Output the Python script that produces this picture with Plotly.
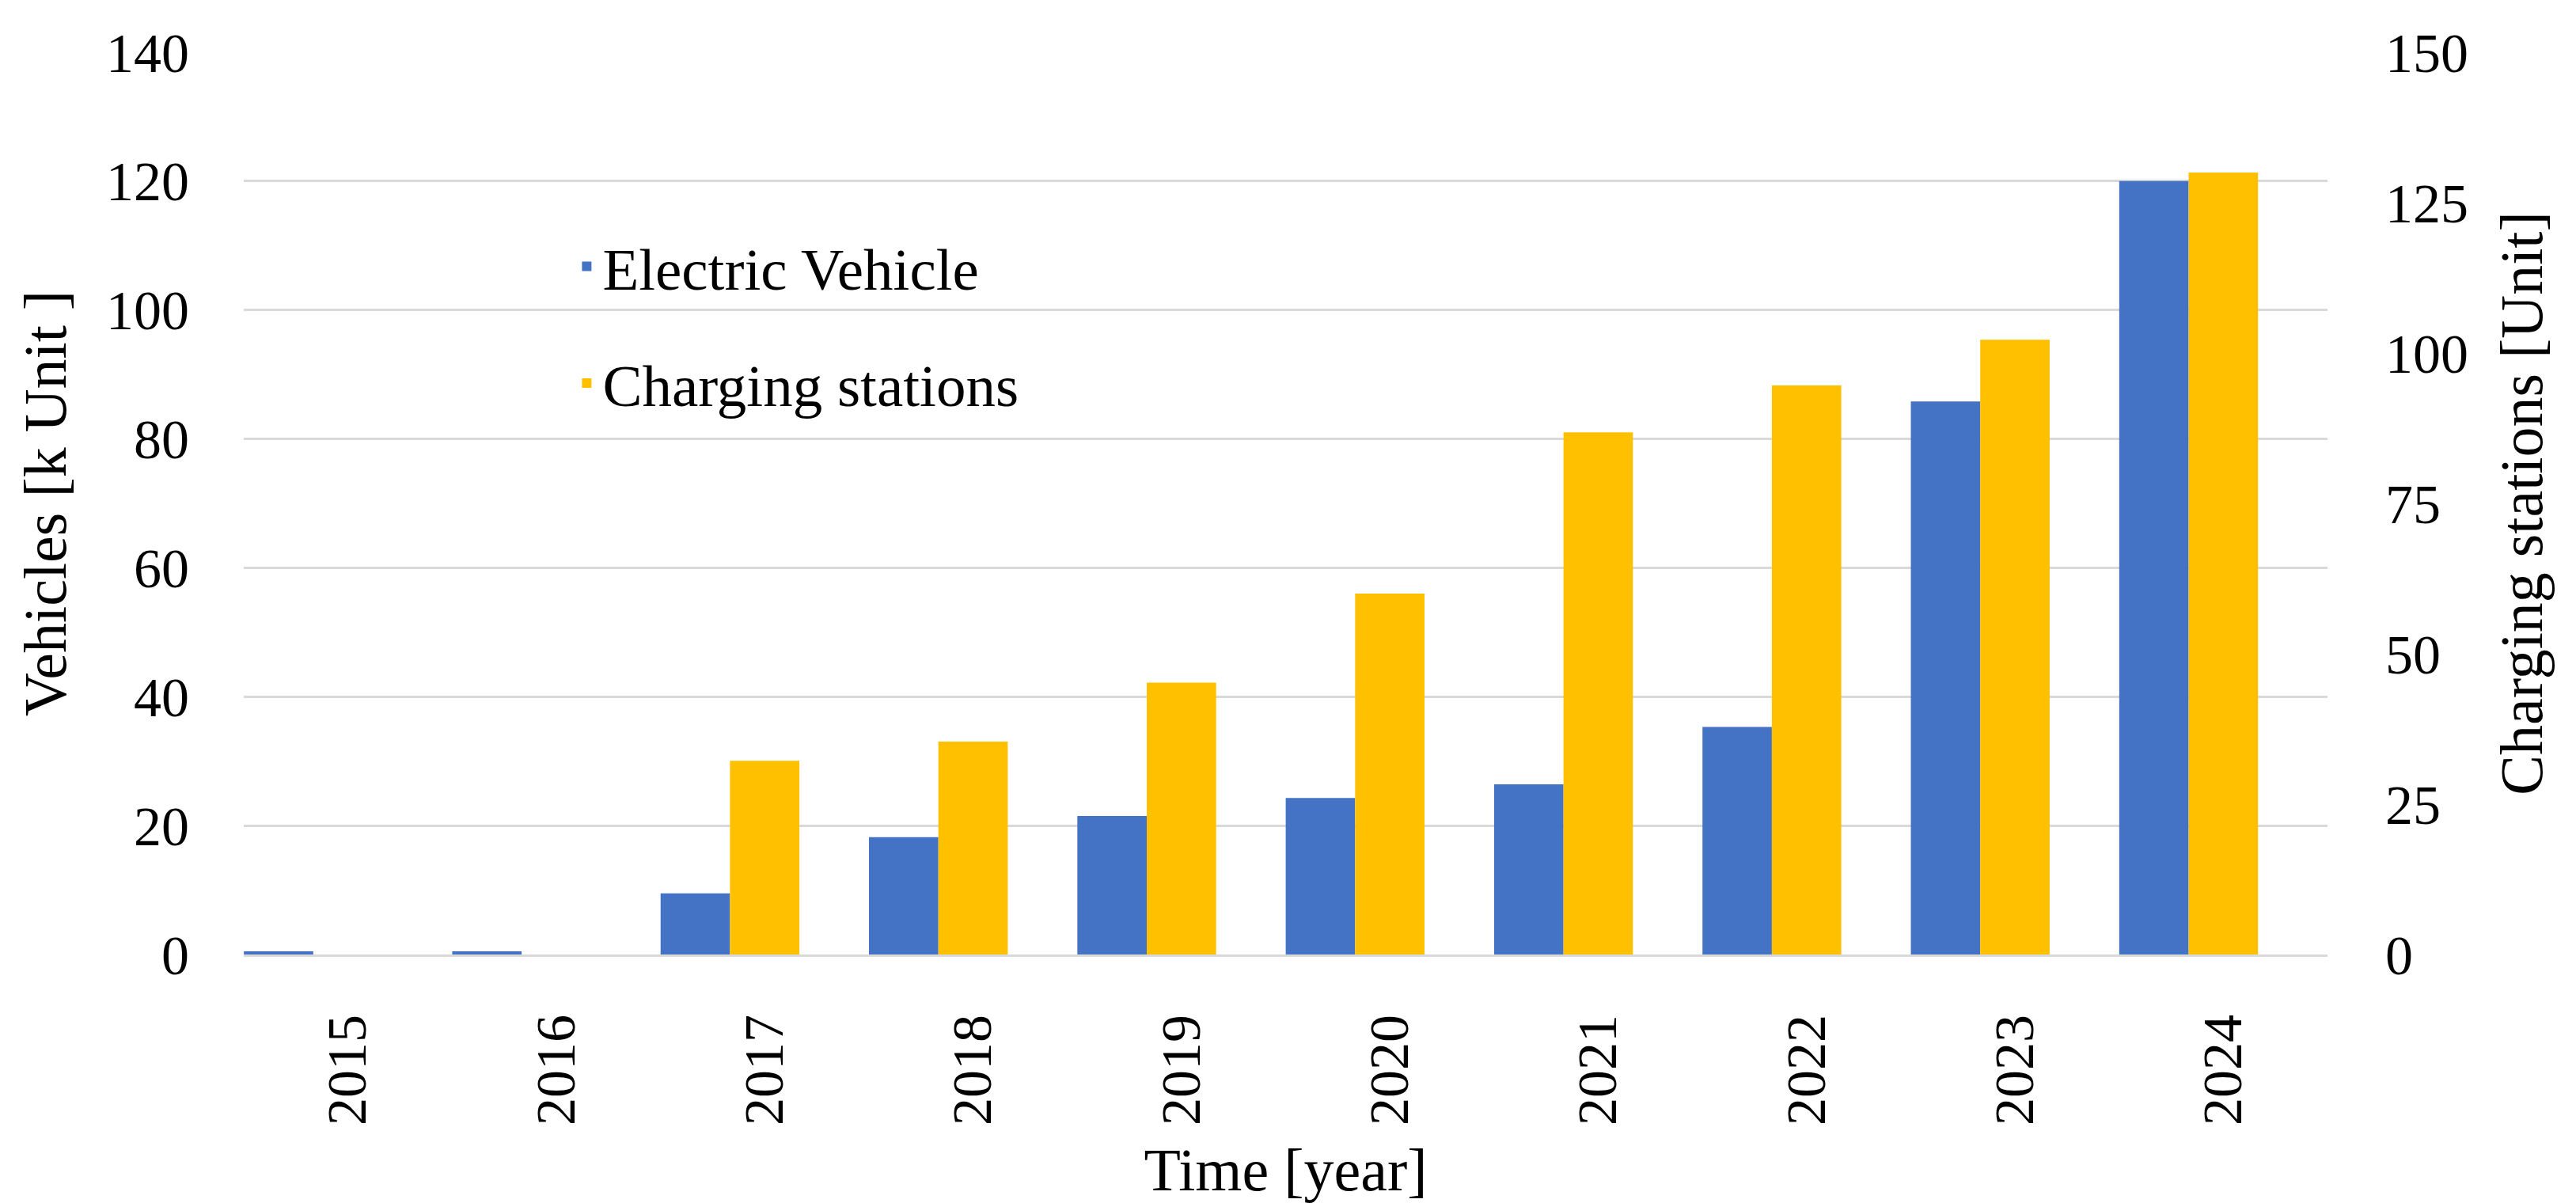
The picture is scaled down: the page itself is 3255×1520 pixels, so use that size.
import plotly.graph_objects as go

years = ["2015", "2016", "2017", "2018", "2019", "2020", "2021", "2022", "2023", "2024"]
ev_k_units = [0.5, 0.5, 9.5, 18.2, 21.5, 24.3, 26.4, 35.3, 85.8, 120.0]
charging_units = [0, 0, 32.2, 35.4, 45.2, 60.0, 86.8, 94.6, 102.2, 130.0]

left_ticks = [0, 20, 40, 60, 80, 100, 120, 140]
right_ticks = [0, 25, 50, 75, 100, 125, 150]

FONT = "Liberation Serif, Times New Roman, serif"
BAR_W = 0.333

fig = go.Figure()
fig.add_trace(go.Bar(
    x=years, y=ev_k_units, name="Electric Vehicle",
    marker=dict(color="#4472C4", line=dict(width=0)),
    width=BAR_W, offset=-1.5 * BAR_W, legendgroup="ev",
    yaxis="y",
))
fig.add_trace(go.Bar(
    x=years, y=charging_units, name="Charging stations",
    marker=dict(color="#FFC000", line=dict(width=0)),
    width=BAR_W, offset=-0.5 * BAR_W, legendgroup="cs",
    yaxis="y2",
))

fig.update_layout(
    width=3255, height=1520,
    margin=dict(l=300, r=322, t=58, b=322, pad=0),
    paper_bgcolor="white", plot_bgcolor="white",
    font=dict(family=FONT, size=70, color="black"),
    barmode="overlay",
    showlegend=True,
    legend=dict(
        x=0.157, y=0.698, xanchor="left", yanchor="middle",
        font=dict(family=FONT, size=75, color="black"),
        bgcolor="rgba(0,0,0,0)", tracegroupgap=47,
        traceorder="grouped",
    ),
    xaxis=dict(
        type="category", range=[-0.5, 9.5],
        tickangle=-90, ticks="", ticklabelstandoff=45,
        tickfont=dict(family=FONT, size=70),
        showgrid=False, showline=True, linecolor="#D9D9D9", linewidth=3,
        title=dict(text="Time [year]", font=dict(family=FONT, size=76), standoff=30),
    ),
    yaxis=dict(
        range=[0, 140], tickmode="array", tickvals=left_ticks,
        ticks="", ticklabelstandoff=68,
        tickfont=dict(family=FONT, size=70),
        showgrid=True, gridcolor="#D9D9D9", gridwidth=3,
        zeroline=False, showline=False,
        title=dict(text="Vehicles [k Unit ]", font=dict(family=FONT, size=76), standoff=25),
    ),
    yaxis2=dict(
        range=[0, 150], tickmode="array", tickvals=right_ticks,
        overlaying="y", side="right",
        ticks="", ticklabelstandoff=72,
        tickfont=dict(family=FONT, size=70),
        showgrid=False, zeroline=False, showline=False,
        title=dict(text="Charging stations [Unit]", font=dict(family=FONT, size=76), standoff=40),
    ),
)

fig.write_html("out.html")
